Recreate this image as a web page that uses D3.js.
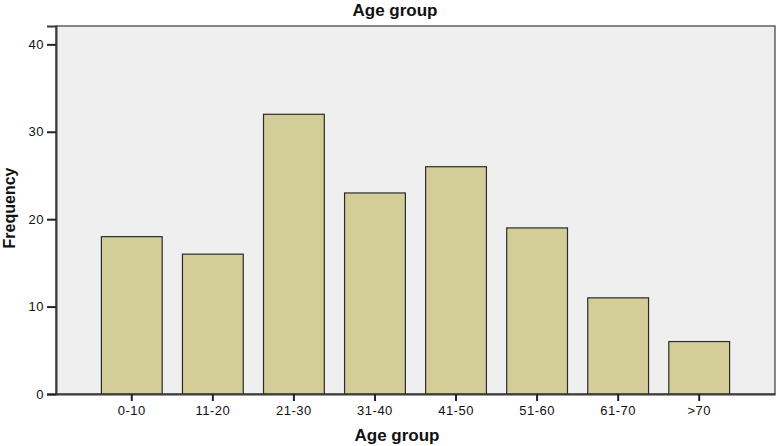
<!DOCTYPE html>
<html>
<head>
<meta charset="utf-8">
<script src="https://cdn.jsdelivr.net/npm/d3@7"></script>
<style>
  body { margin: 0; background: #fff; }
  text { font-family: "Liberation Sans", Arial, sans-serif; fill: #111; }
</style>
</head>
<body>
<div id="main"></div>
<script>
const categories = ["0-10", "11-20", "21-30", "31-40", "41-50", "51-60", "61-70", ">70"];
const frequencies = [18, 16, 32, 23, 26, 19, 11, 6];
const yTicks = [0, 10, 20, 30, 40];

const width = 777;
const height = 446;
const margin = { top: 26, right: 2, bottom: 52, left: 56 };

const svg = d3.select("#main").append("svg")
  .attr("width", width)
  .attr("height", height);

const x = d3.scaleBand()
  .domain(categories)
  .range([margin.left, width - margin.right])
  .paddingInner(0.25)
  .paddingOuter(0.56);

const y = d3.scaleLinear()
  .domain([0, 42.1])
  .range([height - margin.bottom, margin.top]);

// plot background
svg.append("rect")
  .attr("x", margin.left)
  .attr("y", margin.top)
  .attr("width", width - margin.left - margin.right)
  .attr("height", height - margin.top - margin.bottom)
  .attr("fill", "#efefef")
  .attr("stroke", "#3a3a3a")
  .attr("stroke-width", 1.2);

// bars
svg.append("g")
  .selectAll("rect")
  .data(frequencies)
  .join("rect")
  .attr("x", (d, i) => x(categories[i]))
  .attr("y", d => y(d))
  .attr("width", x.bandwidth())
  .attr("height", d => y(0) - y(d))
  .attr("fill", "#d3ce98")
  .attr("stroke", "#2b2b2b")
  .attr("stroke-width", 1.2);

// y axis
const yAxis = svg.append("g")
  .attr("transform", `translate(${margin.left},0)`)
  .call(d3.axisLeft(y).tickValues(yTicks).tickSize(9).tickPadding(3));
yAxis.select(".domain").attr("stroke", "#3a3a3a").attr("stroke-width", 2);
yAxis.selectAll(".tick line").attr("stroke", "#222").attr("stroke-width", 2);
yAxis.selectAll(".tick text").attr("font-size", 13).attr("letter-spacing", 0.5).attr("fill", "#111");

// x axis
const xAxis = svg.append("g")
  .attr("transform", `translate(0,${y(0)})`)
  .call(d3.axisBottom(x).tickSize(7).tickPadding(5).tickSizeOuter(0));
xAxis.select(".domain").attr("stroke", "#3a3a3a").attr("stroke-width", 2);
xAxis.selectAll(".tick line").attr("stroke", "#222").attr("stroke-width", 2);
xAxis.selectAll(".tick text").attr("font-size", 13).attr("letter-spacing", 0.5).attr("fill", "#111");

// titles
svg.append("text")
  .attr("x", 395)
  .attr("y", 15.5)
  .attr("text-anchor", "middle")
  .attr("font-size", 17)
  .attr("font-weight", "bold")
  .text("Age group");

svg.append("text")
  .attr("x", 397)
  .attr("y", 441)
  .attr("text-anchor", "middle")
  .attr("font-size", 17)
  .attr("font-weight", "bold")
  .text("Age group");

svg.append("text")
  .attr("transform", "translate(15,208) rotate(-90)")
  .attr("text-anchor", "middle")
  .attr("font-size", 16)
  .attr("font-weight", "bold")
  .text("Frequency");
</script>
</body>
</html>
